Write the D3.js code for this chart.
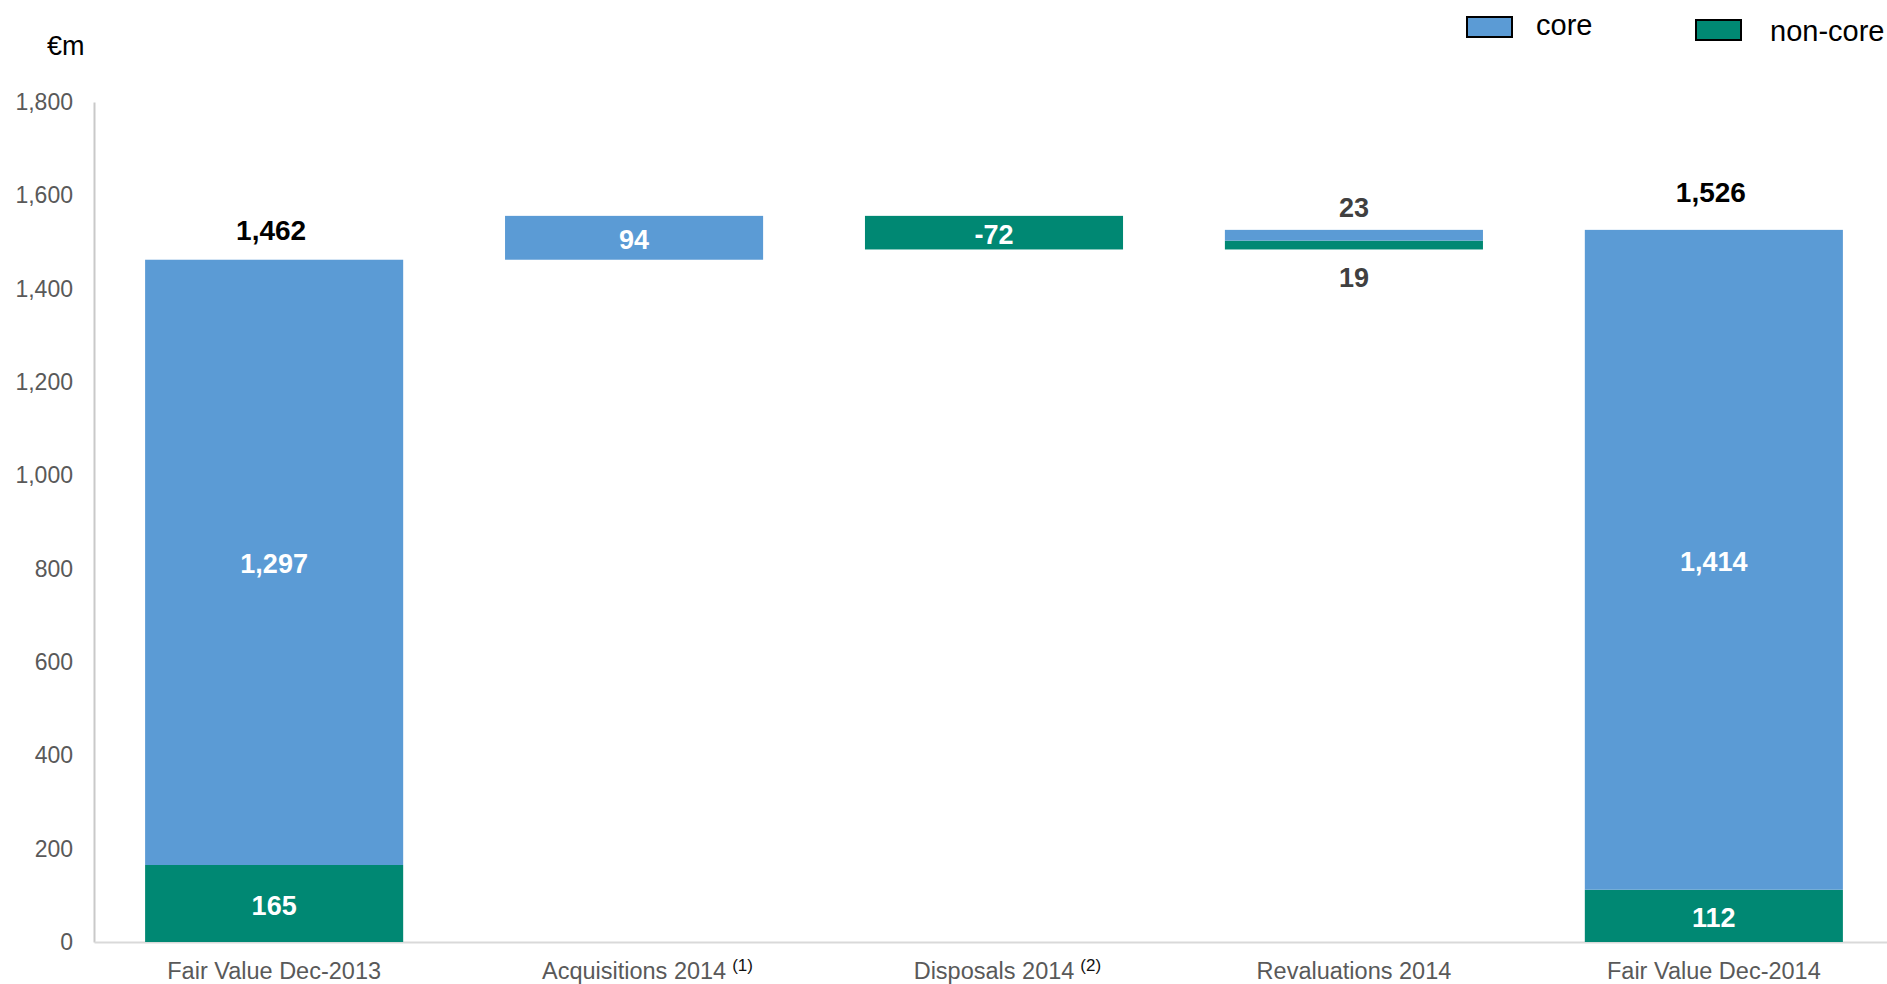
<!DOCTYPE html>
<html>
<head>
<meta charset="utf-8">
<script src="https://cdn.jsdelivr.net/npm/d3@7"></script>
<style>
  html, body { margin: 0; padding: 0; background: #fff; }
  svg { display: block; font-family: "Liberation Sans", Arial, sans-serif; }
</style>
</head>
<body>
<svg id="chart" width="1887" height="984"></svg>
<script>
// Investment property fair value bridge, 2013 -> 2014 (€m)
const categories = ["Fair Value Dec-2013", "Acquisitions 2014", "Disposals 2014", "Revaluations 2014", "Fair Value Dec-2014"];
const categoryNotes = ["", "(1)", "(2)", "", ""];
const stepKinds = ["total", "delta", "delta", "delta", "total"];
const coreValues = [1297, 94, 0, 23, 1414];
const nonCoreValues = [165, 0, -72, 19, 112];
const totalLabels = [1462, null, null, null, 1526];
const yTicks = [0, 200, 400, 600, 800, 1000, 1200, 1400, 1600, 1800];
const seriesNames = ["core", "non-core"];

const colors = { core: "#5B9BD5", nonCore: "#008873" };
const fmt = d3.formatLocale({ decimal: ".", thousands: ",", grouping: [3], currency: ["€", ""], minus: "-" }).format(",");

const svg = d3.select("#chart");

const y = d3.scaleLinear().domain([0, 1800]).range([942, 102]);
const x = d3.scaleBand().domain(categories).range([94, 1894])
  .paddingInner(0.283).paddingOuter(0.142);

// Build segment extents: non-core stacks first, core on top of it
const segments = [];
let running = 0;
categories.forEach((cat, i) => {
  let base = stepKinds[i] === "total" ? 0 : running;
  const nc = nonCoreValues[i], co = coreValues[i];
  if (nc !== 0) {
    segments.push({ cat, i, series: "nonCore", value: nc, from: base, to: base + nc });
    base += nc;
  }
  if (co !== 0) {
    segments.push({ cat, i, series: "core", value: co, from: base, to: base + co });
    base += co;
  }
  running = base;
});

// Axes
const yAxis = svg.append("g").attr("transform", "translate(94,0)")
  .call(d3.axisLeft(y).tickValues(yTicks).tickFormat(fmt).tickSize(0).tickSizeOuter(0).tickPadding(21));
yAxis.select(".domain").attr("stroke", "#c9c9c9").attr("stroke-width", 2);
yAxis.selectAll("text").attr("fill", "#595959").style("font-size", "23px")
  .style("font-family", "'Liberation Sans', Arial, sans-serif");

const xAxis = svg.append("g").attr("transform", "translate(0,942)")
  .call(d3.axisBottom(x).tickSize(0).tickSizeOuter(0));
xAxis.select(".domain").attr("stroke", "#d9d9d9").attr("stroke-width", 2);
xAxis.selectAll(".tick text")
  .attr("y", 37).attr("dy", 0)
  .attr("fill", "#595959").style("font-size", "23.5px")
  .style("font-family", "'Liberation Sans', Arial, sans-serif");
xAxis.selectAll(".tick").each(function (d, i) {
  const note = categoryNotes[i];
  if (!note) return;
  const t = d3.select(this).select("text");
  const w = t.node().getComputedTextLength();
  d3.select(this).append("text")
    .attr("x", w / 2 + 6).attr("y", 29)
    .attr("text-anchor", "start")
    .attr("fill", "#111").style("font-size", "17px")
    .style("font-family", "'Liberation Sans', Arial, sans-serif")
    .text(note);
});

// Bars
svg.append("g").selectAll("rect").data(segments).join("rect")
  .attr("x", d => x(d.cat))
  .attr("width", x.bandwidth())
  .attr("y", d => y(Math.max(d.from, d.to)))
  .attr("height", d => Math.abs(y(d.from) - y(d.to)))
  .attr("fill", d => colors[d.series]);

// Segment labels: inside when tall enough, otherwise outside the bar
const labels = svg.append("g").style("font-weight", "bold");
segments.forEach(d => {
  const h = Math.abs(y(d.from) - y(d.to));
  const cx = x(d.cat) + x.bandwidth() / 2;
  if (h >= 30) {
    labels.append("text")
      .attr("x", cx).attr("y", (y(d.from) + y(d.to)) / 2 + 2)
      .attr("text-anchor", "middle").attr("dominant-baseline", "central")
      .attr("fill", "#fff").style("font-size", "27px")
      .text(fmt(d.value));
  } else if (d.series === "core") {
    labels.append("text")
      .attr("x", cx).attr("y", y(Math.max(d.from, d.to)) - 13)
      .attr("text-anchor", "middle")
      .attr("fill", "#404040").style("font-size", "27px")
      .text(fmt(d.value));
  } else {
    labels.append("text")
      .attr("x", cx).attr("y", y(Math.min(d.from, d.to)) + 38)
      .attr("text-anchor", "middle")
      .attr("fill", "#404040").style("font-size", "27px")
      .text(fmt(d.value));
  }
});

// Totals above the end-point bars
const totalOffsets = [20, 0, 0, 0, 28];
categories.forEach((cat, i) => {
  if (totalLabels[i] == null) return;
  labels.append("text")
    .attr("x", x(cat) + x.bandwidth() / 2 - 3)
    .attr("y", y(totalLabels[i]) - totalOffsets[i])
    .attr("text-anchor", "middle")
    .attr("fill", "#000").style("font-size", "28px")
    .text(fmt(totalLabels[i]));
});

// Unit label
svg.append("text").attr("x", 47).attr("y", 55)
  .attr("fill", "#000").style("font-size", "27px").text("€m");

// Legend
const legendItems = [
  { name: seriesNames[0], color: colors.core, rx: 1467, ry: 17, tx: 1536, ty: 35 },
  { name: seriesNames[1], color: colors.nonCore, rx: 1696, ry: 20, tx: 1770, ty: 41 }
];
const legend = svg.append("g");
legendItems.forEach(it => {
  legend.append("rect").attr("x", it.rx).attr("y", it.ry)
    .attr("width", 45).attr("height", 20)
    .attr("fill", it.color).attr("stroke", "#000").attr("stroke-width", 2);
  legend.append("text").attr("x", it.tx).attr("y", it.ty)
    .attr("fill", "#000").style("font-size", "29px").text(it.name);
});
</script>
</body>
</html>
